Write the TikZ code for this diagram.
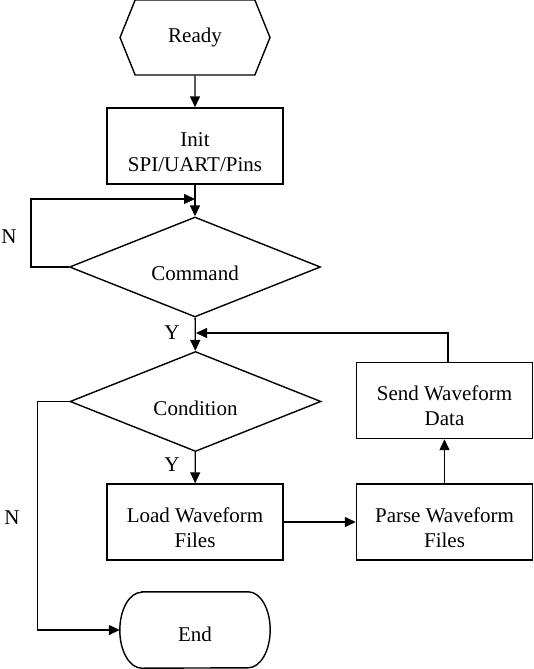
\documentclass[tikz,border=0pt]{standalone}
\usepackage{fontspec}
\setmainfont{Liberation Serif}
\usetikzlibrary{shapes.geometric,shapes.symbols,arrows.meta}
\newcommand{\boxgap}{\rule{0pt}{25.5pt}}
\tikzset{
  txt/.style={font=\fontsize{21}{25}\selectfont, align=center},
  box/.style={txt, draw, line width=1.4pt, minimum width=176pt, minimum height=76pt},
  decision/.style={txt, draw, line width=1.4pt, diamond, aspect=2.5, inner sep=0pt, minimum width=251pt, minimum height=100pt, execute at begin node={\rule{0pt}{28pt}}},
  startstop/.style={txt, draw, line width=1.4pt, signal, signal to=east and west, signal pointer angle=136, minimum width=150pt, minimum height=75pt},
  terminal/.style={txt, rectangle, minimum width=150pt, minimum height=76pt, execute at begin node={\rule{0pt}{23.5pt}}},
  flow/.style={line width=1.4pt, -{Triangle[length=11pt,width=10pt]}}
}
\begin{document}
\begin{tikzpicture}[x=1pt,y=-1pt]
  \useasboundingbox (0,0) rectangle (533,669);

  \node[startstop] (ready) at (195,37.5) {Ready};
  \node[box] (init) at (195,146) {\boxgap Init\\SPI/UART/Pins};
  \node[decision] (command) at (195,267) {Command};
  \node[decision] (condition) at (195.5,401.5) {Condition};
  \node[box] (load) at (195,522) {\boxgap Load Waveform\\Files};
  \node[box] (parse) at (444.5,522) {\boxgap Parse Waveform\\Files};
  \node[box] (send) at (444.5,400.5) {\boxgap Send Waveform\\Data};
  \node[terminal] (end) at (195,630) {End};
  % outline of the end terminal, elliptic sides
  \draw[line width=1.4pt] ([xshift=22pt]end.north west) -- ([xshift=-22pt]end.north east)
    arc[start angle=90, end angle=-90, x radius=22pt, y radius=38pt]
    -- ([xshift=22pt]end.south west)
    arc[start angle=270, end angle=90, x radius=22pt, y radius=38pt] -- cycle;

  \coordinate (cmdin) at (195,199);
  \coordinate (cmdjoin) at (196,333);

  \node[txt] (n1) at (9,237) {N};
  \node[txt] (y1) at (172,333) {Y};
  \node[txt] (y2) at (172,465) {Y};
  \node[txt] (n2) at (12,518) {N};

  \draw[flow] (ready) -- (init);
  \draw[flow] (init) -- (command);
  \draw[flow] (command.west) -- ++(-38,0) |- (cmdin);
  \draw[flow] (command) -- (condition);
  \draw[flow] (condition) -- (load);
  \draw[flow] (load) -- (parse);
  \draw[flow] (parse) -- (send);
  \draw[flow] ([xshift=3.5pt]send.north) |- (cmdjoin);
  \draw[flow] (condition.west) -- ++(-32,0) |- (end.west);
\end{tikzpicture}
\end{document}
